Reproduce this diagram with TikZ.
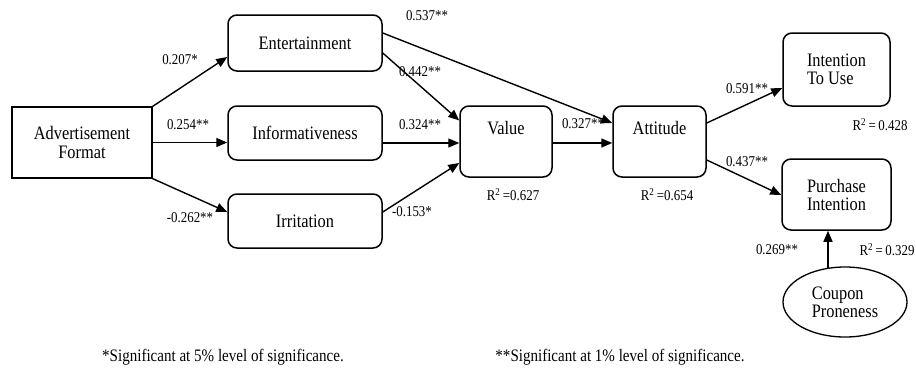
\documentclass[tikz,border=0pt]{standalone}
\usepackage{fontspec}
\setmainfont{Liberation Serif}[FakeStretch=0.86]
\usetikzlibrary{arrows.meta,calc,shapes.geometric}
\begin{document}
\begin{tikzpicture}[x=1pt,y=-1pt,
  box/.style={draw,line width=1.5pt,rounded corners=9pt,inner sep=0pt},
  sqbox/.style={draw,line width=1.2pt,inner sep=0pt},
  big/.style={font=\fontsize{19}{21}\selectfont},
  lab/.style={font=\fontsize{15}{17}\selectfont,inner sep=0pt},
  note/.style={font=\fontsize{17.5}{20}\selectfont,inner sep=0pt},
  arr/.style={line width=1.4pt,-{Triangle[length=11pt,width=9pt]}}]
\useasboundingbox (0,0) rectangle (916,368);
% boxes
\node[sqbox,big,minimum width=140pt,minimum height=71pt,align=center] (af) at (82,142.5) {Advertisement\\[-2pt]Format};
\node[box,big,minimum width=154pt,minimum height=56pt] (ent) at (305,43) {Entertainment};
\node[box,big,minimum width=154pt,minimum height=54pt] (inf) at (305,133) {Informativeness};
\node[box,big,minimum width=154pt,minimum height=54pt] (irr) at (305,221) {Irritation};
\node[box,minimum width=92pt,minimum height=71pt] (val) at (506,141.5) {};
\node[big,inner sep=0pt] (valt) at (506,128) {Value};
\node[box,minimum width=93pt,minimum height=71pt] (att) at (659.5,141.5) {};
\node[big,inner sep=0pt] (attt) at (659.5,128) {Attitude};
\node[box,big,minimum width=107pt,minimum height=73pt,align=left] (int) at (836.5,69.5) {Intention\\[-3pt]To Use};
\node[box,big,minimum width=109pt,minimum height=71pt,align=left] (pur) at (836.5,194.5) {Purchase\\[-3pt]Intention};
\node[draw,line width=1.3pt,ellipse,big,minimum width=124pt,minimum height=70pt,inner sep=0pt,align=left] (cou) at (845,302) {Coupon\\[-3pt]Proneness};
\coordinate (cs) at (828,268);
% arrows
\draw[arr] (af.north east) -- ($(ent.west)+(0,14)$);
\draw[arr] (af.east) -- (af.east -| inf.west);
\draw[arr] (af.south east) -- ($(irr.west)+(0,-9)$);
\draw[arr] ($(ent.east)+(0,10)$) -- ($(val.west)+(0,-21)$);
\draw[arr] ($(ent.east)+(0,-10)$) -- ($(att.west)+(0,-18.5)$);
\draw[arr] ($(inf.east)+(0,10)$) -- ($(val.west)+(0,1.5)$);
\draw[arr] ($(irr.east)+(0,-9)$) -- ($(val.west)+(0,21.5)$);
\draw[arr] ($(val.east)+(0,1.5)$) -- ($(att.west)+(0,1.5)$);
\draw[arr] ($(att.east)+(0,-18.5)$) -- ($(int.west)+(0,18.5)$);
\draw[arr] ($(att.east)+(0,18.5)$) -- ($(pur.west)+(0,0.5)$);
\draw[arr] (cs) -- (cs |- pur.south);
% labels
\node[lab] (l1) at (427,16) {0.537**};
\node[lab] (l2) at (180,60) {0.207*};
\node[lab] (l3) at (420,72) {0.442**};
\node[lab] (l4) at (188,125) {0.254**};
\node[lab] (l5) at (420,125) {0.324**};
\node[lab] (l6) at (190,218) {-0.262**};
\node[lab] (l7) at (412,212) {-0.153*};
\node[lab] (l8) at (583,124) {0.327**};
\node[lab] (l9) at (747,89) {0.591**};
\node[lab] (l10) at (747,162) {0.437**};
\node[lab] (l11) at (777,250) {0.269**};
\node[lab] (r1) at (513,195) {R\textsuperscript{2}\,=0.627};
\node[lab] (r2) at (667,195) {R\textsuperscript{2}\,=0.654};
\node[lab] (r3) at (880,125) {R\textsuperscript{2}\,=\,0.428};
\node[lab] (r4) at (887,250) {R\textsuperscript{2}\,=\,0.329};
\node[note] (n1) at (223,357) {*Significant at 5\% level of significance.};
\node[note] (n2) at (620,357) {**Significant at 1\% level of significance.};
\end{tikzpicture}
\end{document}
